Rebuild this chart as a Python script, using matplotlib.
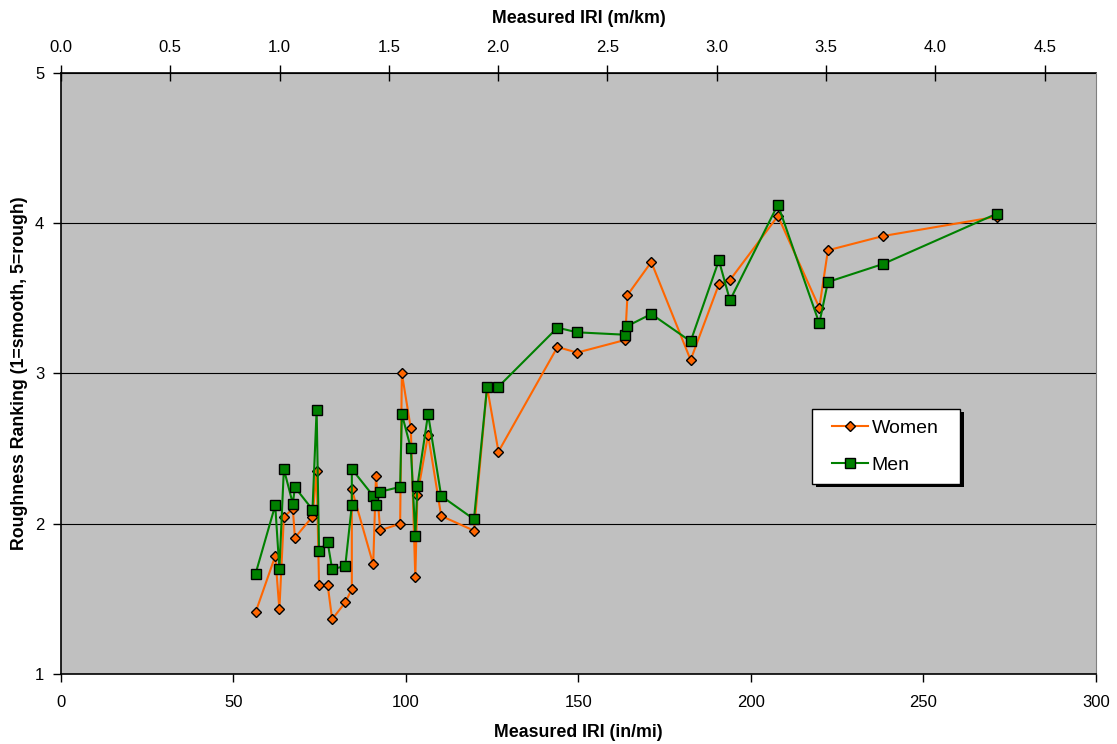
import numpy as np
import matplotlib.pyplot as plt
from matplotlib.patches import Rectangle

# données
iri_in_mi = [56.4, 62.1, 63.3, 64.6, 67.2, 67.8, 72.9, 74.1, 74.8, 77.3,
             78.6, 82.4, 84.3, 84.3, 90.5, 91.3, 92.5, 98.3, 98.8, 101.4,
             102.7, 103.3, 106.4, 110.2, 119.7, 123.5, 126.8, 143.9, 149.6, 163.5,
             164.2, 171.1, 182.5, 190.7, 193.9, 207.8, 219.8, 222.3, 238.3, 271.3]
women = [1.41, 1.785, 1.43, 2.045, 2.10, 1.907, 2.047, 2.349, 1.592, 1.592,
         1.364, 1.477, 1.564, 2.229, 1.730, 2.320, 1.956, 2.000, 3.001, 2.635,
         1.643, 2.191, 2.593, 2.052, 1.954, 2.91, 2.48, 3.176, 3.139, 3.223,
         3.522, 3.742, 3.090, 3.594, 3.622, 4.048, 3.438, 3.820, 3.915, 4.044]
men = [1.667, 2.123, 1.697, 2.364, 2.133, 2.243, 2.094, 2.759, 1.819, 1.876,
       1.697, 1.719, 2.123, 2.364, 2.185, 2.123, 2.213, 2.245, 2.730, 2.502,
       1.921, 2.251, 2.730, 2.185, 2.030, 2.912, 2.912, 3.305, 3.274, 3.258,
       3.316, 3.396, 3.214, 3.753, 3.487, 4.124, 3.334, 3.609, 3.729, 4.064]

top_ticks = [0.0, 0.5, 1.0, 1.5, 2.0, 2.5, 3.0, 3.5, 4.0, 4.5]
IN_MI_PER_M_KM = 63.36

plt.rcParams['font.family'] = ['Liberation Sans', 'DejaVu Sans']

fig = plt.figure(figsize=(11.17, 7.44), dpi=100)
ax = fig.add_axes([0.0546, 0.0941, 0.9266, 0.8078])
ax.set_facecolor('#c0c0c0')

ax.plot(iri_in_mi, women, color='#ff6600', lw=1.5, marker='D', ms=5,
        mfc='#ff6600', mec='black', mew=1.0, label='Women', zorder=3)
ax.plot(iri_in_mi, men, color='#008000', lw=1.5, marker='s', ms=6.5,
        mfc='#008000', mec='black', mew=1.0, label='Men', zorder=4)

ax.set_xlim(0, 300)
ax.set_ylim(1, 5)
ax.set_xticks(np.arange(0, 301, 50))
ax.set_yticks([1, 2, 3, 4, 5])
ax.grid(axis='y', color='black', lw=0.8)
ax.set_axisbelow(True)
ax.tick_params(axis='x', direction='out', length=6, width=1, labelsize=12, pad=9)
ax.tick_params(axis='y', direction='out', length=6, width=1, labelsize=12, pad=6)

for side in ['left', 'bottom']:
    ax.spines[side].set_linewidth(1.2)
ax.spines['right'].set_color('#808080')
ax.spines['top'].set_visible(False)

ax.set_xlabel('Measured IRI (in/mi)', fontsize=12.8, fontweight='bold', labelpad=10)
ax.set_ylabel('Roughness Ranking (1=smooth, 5=rough)', fontsize=12.8,
              fontweight='bold', labelpad=5)

# axe du haut en m/km
top = ax.secondary_xaxis('top', functions=(lambda x: x / IN_MI_PER_M_KM,
                                           lambda x: x * IN_MI_PER_M_KM))
top.set_xticks(top_ticks)
top.set_xticklabels([f"{t:.1f}" for t in top_ticks])
top.tick_params(direction='inout', length=12, width=1, labelsize=12, pad=7)
top.spines['top'].set_linewidth(1.2)
top.set_xlabel('Measured IRI (m/km)', fontsize=12.8, fontweight='bold', labelpad=12)

# cadre de légende avec ombre noire
x0, x1 = 0.7253, 0.8686
y0, y1 = 0.3161, 0.4409
ax.add_patch(Rectangle((x0 + 0.0039, y0 - 0.0058), x1 - x0, y1 - y0,
                       transform=ax.transAxes, facecolor='black',
                       edgecolor='none', zorder=6))
ax.add_patch(Rectangle((x0, y0), x1 - x0, y1 - y0, transform=ax.transAxes,
                       facecolor='white', edgecolor='black', lw=1.0, zorder=7))

leg = ax.legend(loc='center left', bbox_to_anchor=(0.7449, 0.3785), borderaxespad=0,
                fontsize=14, frameon=False, borderpad=0, handlelength=1.85,
                handletextpad=0.2, labelspacing=1.0)
leg.set_zorder(8)

fig.savefig('out.png', dpi=100)
